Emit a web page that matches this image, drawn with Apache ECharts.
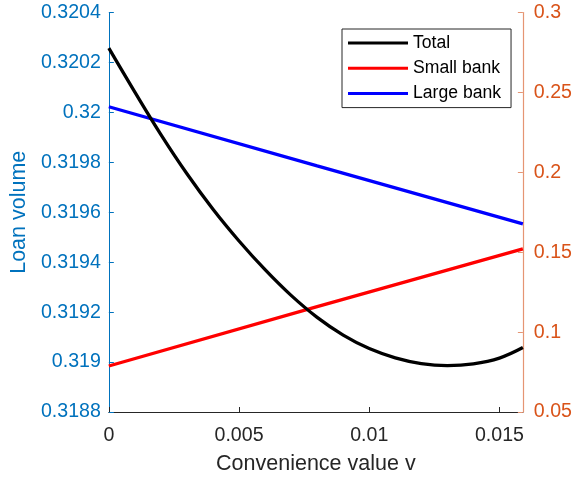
<!DOCTYPE html>
<html>
<head>
<meta charset="utf-8">
<script src="https://cdn.jsdelivr.net/npm/echarts@6/dist/echarts.min.js"></script>
<style>
  html, body { margin: 0; padding: 0; background: #fff; }
  #chart { width: 575px; height: 480px; }
</style>
</head>
<body>
<div id="chart"></div>
<script>
// Convenience value v (x) for the total loan-volume curve
const vGrid = [0, 0.001, 0.002, 0.003, 0.004, 0.005, 0.006, 0.007, 0.008,
               0.009, 0.010, 0.011, 0.012, 0.013, 0.014, 0.015, 0.0159];
// Total loan volume (left axis)
const totalLoan = [0.320257, 0.320081, 0.319911, 0.319754, 0.319612, 0.319485,
                   0.319370, 0.319267, 0.319179, 0.319108, 0.319054, 0.319017,
                   0.318994, 0.318986, 0.318993, 0.319016, 0.319058];
// Bank-level series (right axis)
const bankV = [0, 0.008, 0.0159];
const smallBank = [0.0788, 0.1159, 0.1521];
const largeBank = [0.2410, 0.2040, 0.1677];

// Axis ticks
const xTicks = [0, 0.005, 0.01, 0.015];
const leftRange = { min: 0.3188, max: 0.3204, step: 0.0002 };
const rightRange = { min: 0.05, max: 0.3, step: 0.05 };

const FONT = "'Liberation Sans', Arial, Helvetica, sans-serif";
const LEFT_C = '#0072BD';
const RIGHT_C = '#D95319';
const AXIS_C = '#262626';
const LINE_W = 3.3;

const trim = (v, d) => String(parseFloat(v.toFixed(d)));
const pairs = (xs, ys) => xs.map((x, i) => [x, ys[i]]);

const chart = echarts.init(document.getElementById('chart'), null, { renderer: 'canvas' });

chart.setOption({
  animation: false,
  backgroundColor: '#fff',
  textStyle: { fontFamily: FONT },
  grid: { left: 108, right: 51, top: 12.5, bottom: 66, containLabel: false },
  legend: {
    orient: 'vertical',
    left: 342,
    top: 29,
    padding: [4, 10, 4, 6],
    itemGap: 5.3,
    itemWidth: 60,
    itemHeight: 3,
    icon: 'rect',
    backgroundColor: '#fff',
    borderColor: AXIS_C,
    borderWidth: 1,
    borderRadius: 0,
    textStyle: { fontFamily: FONT, fontSize: 17.6, color: '#000', lineHeight: 20 },
    data: ['Total', 'Small bank', 'Large bank']
  },
  xAxis: {
    type: 'value',
    min: 0,
    max: 0.0159,
    name: 'Convenience value v',
    nameLocation: 'middle',
    nameGap: 41,
    nameTextStyle: { fontFamily: FONT, fontSize: 21.5, color: AXIS_C },
    axisLine: { show: true, lineStyle: { color: AXIS_C, width: 1 } },
    axisTick: { show: true, inside: true, length: 5, customValues: xTicks,
                lineStyle: { color: AXIS_C } },
    axisLabel: { customValues: xTicks, margin: 14, fontFamily: FONT, fontSize: 19.6,
                 color: AXIS_C, formatter: v => trim(v, 4) },
    splitLine: { show: false }
  },
  yAxis: [
    {
      type: 'value',
      position: 'left',
      min: leftRange.min,
      max: leftRange.max,
      interval: leftRange.step,
      name: 'Loan volume',
      nameLocation: 'middle',
      nameGap: 71,
      nameTextStyle: { fontFamily: FONT, fontSize: 21.5, color: LEFT_C },
      axisLine: { show: true, lineStyle: { color: LEFT_C, width: 1 } },
      axisTick: { show: true, inside: true, length: 5, lineStyle: { color: LEFT_C } },
      axisLabel: { margin: 8, fontFamily: FONT, fontSize: 19.6, color: LEFT_C,
                   formatter: v => trim(v, 4) },
      splitLine: { show: false }
    },
    {
      type: 'value',
      position: 'right',
      min: rightRange.min,
      max: rightRange.max,
      interval: rightRange.step,
      axisLine: { show: true, lineStyle: { color: '#E59573', width: 1.2 } },
      axisTick: { show: true, inside: true, length: 5, lineStyle: { color: '#E59573' } },
      axisLabel: { margin: 11, fontFamily: FONT, fontSize: 19.6, color: RIGHT_C,
                   formatter: v => trim(v, 2) },
      splitLine: { show: false }
    }
  ],
  series: [
    {
      name: 'Total',
      type: 'line',
      yAxisIndex: 0,
      data: pairs(vGrid, totalLoan),
      smooth: 0.4,
      showSymbol: false,
      symbol: 'none',
      color: '#000000',
      lineStyle: { color: '#000000', width: LINE_W },
      z: 3
    },
    {
      name: 'Small bank',
      type: 'line',
      yAxisIndex: 1,
      data: pairs(bankV, smallBank),
      showSymbol: false,
      symbol: 'none',
      color: '#FF0000',
      lineStyle: { color: '#FF0000', width: LINE_W },
      z: 2
    },
    {
      name: 'Large bank',
      type: 'line',
      yAxisIndex: 1,
      data: pairs(bankV, largeBank),
      showSymbol: false,
      symbol: 'none',
      color: '#0000FF',
      lineStyle: { color: '#0000FF', width: LINE_W },
      z: 2
    }
  ]
});
</script>
</body>
</html>
